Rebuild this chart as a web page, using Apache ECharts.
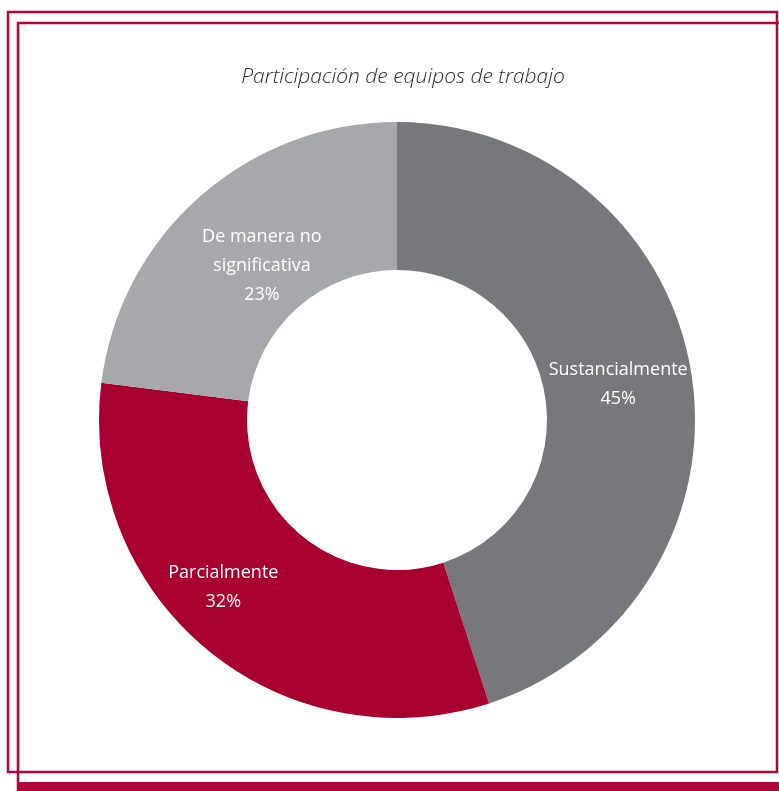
<!DOCTYPE html>
<html>
<head>
<meta charset="utf-8">
<script src="https://cdn.jsdelivr.net/npm/echarts@6/dist/echarts.min.js"></script>
<style>
  html, body { margin: 0; padding: 0; background: #ffffff; }
  #chart { width: 779px; height: 791px; }
</style>
</head>
<body>
<div id="chart"></div>
<script>
// Participación de equipos de trabajo
const titleText = 'Participación de equipos de trabajo';
const categories = ['Sustancialmente', 'Parcialmente', 'De manera no\nsignificativa'];
const values = [45, 32, 23];
const colors = ['#77787b', '#a8002f', '#a7a8ab'];
const frameColor = '#b0063b';

// per-slice nudges so the labels sit where the layout wants them
const labelOffsets = [[-3, 0], [-29, -8], [15, 16]];

const chart = echarts.init(document.getElementById('chart'), null, { renderer: 'canvas' });

const data = categories.map((name, i) => ({
  name: name,
  value: values[i],
  itemStyle: { color: colors[i] },
  label: { offset: labelOffsets[i] }
}));

chart.setOption({
  animation: false,
  title: {
    text: titleText,
    left: 398,
    textAlign: 'center',
    top: 62,
    textStyle: {
      fontFamily: 'Open Sans',
      fontStyle: 'italic',
      fontWeight: 300,
      fontSize: 21,
      color: '#2b2b2b'
    }
  },
  graphic: [
    {
      type: 'rect',
      shape: { x: 8, y: 12, width: 769, height: 760 },
      style: { fill: 'none', stroke: frameColor, lineWidth: 2.5 },
      z: 10
    },
    {
      type: 'rect',
      shape: { x: 18, y: 23, width: 800, height: 770 },
      style: { fill: 'none', stroke: frameColor, lineWidth: 2.5 },
      z: 10
    },
    {
      type: 'rect',
      shape: { x: 17, y: 782, width: 800, height: 12 },
      style: { fill: frameColor },
      z: 10
    }
  ],
  series: [{
    type: 'pie',
    center: [397, 420],
    radius: [150, 298],
    startAngle: 90,
    clockwise: true,
    silent: true,
    label: {
      show: true,
      position: 'inside',
      formatter: p => p.name + '\n' + p.value + '%',
      color: '#ffffff',
      fontFamily: 'Open Sans',
      fontWeight: 400,
      fontSize: 18,
      lineHeight: 29,
      align: 'center'
    },
    labelLine: { show: false },
    itemStyle: { borderWidth: 0 },
    data: data
  }]
});
</script>
</body>
</html>
